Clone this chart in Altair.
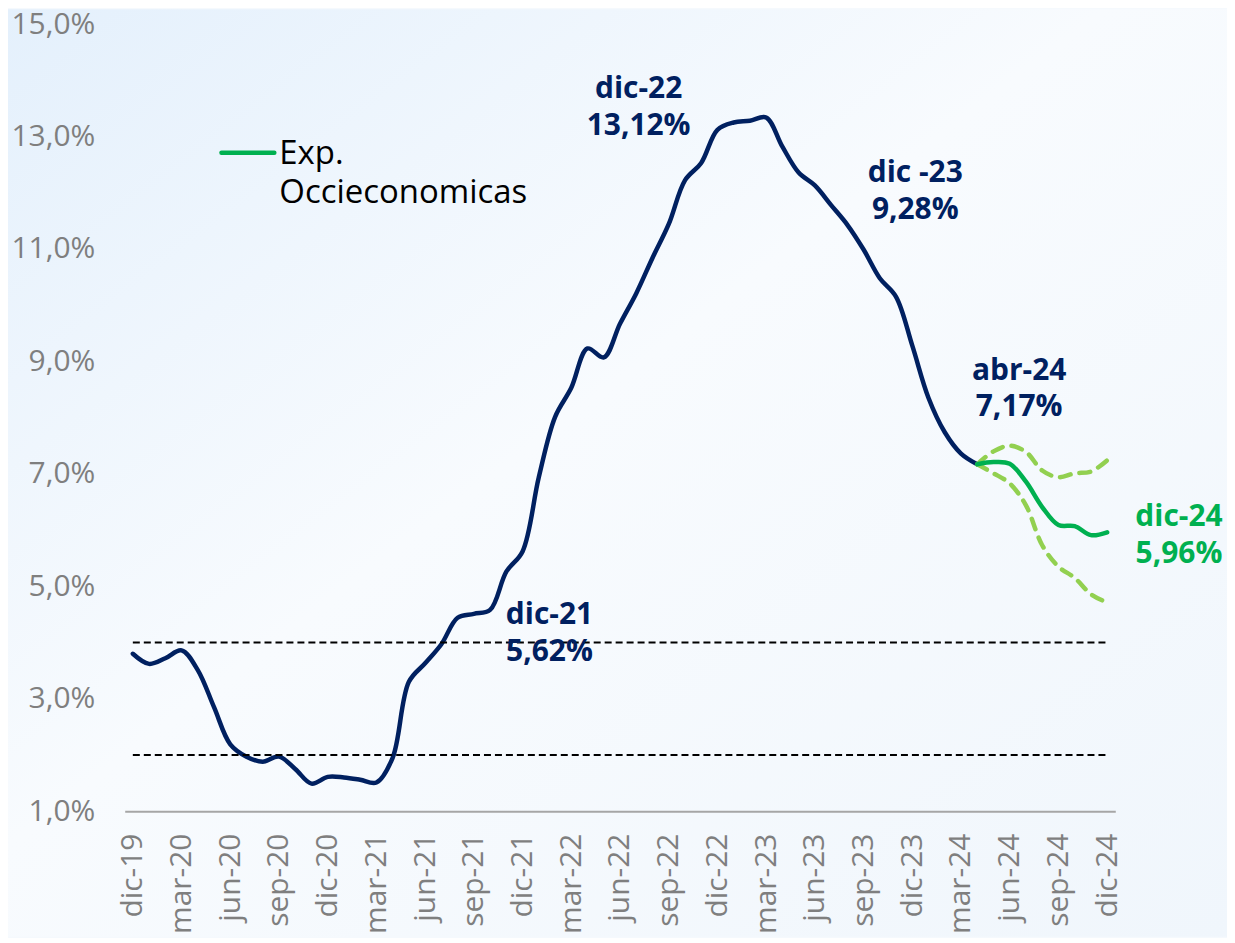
import altair as alt
import pandas as pd

# ---------------- data ----------------
meses = [
    "dic-19",
    "ene-20", "feb-20", "mar-20", "abr-20", "may-20", "jun-20", "jul-20", "ago-20", "sep-20", "oct-20", "nov-20", "dic-20",
    "ene-21", "feb-21", "mar-21", "abr-21", "may-21", "jun-21", "jul-21", "ago-21", "sep-21", "oct-21", "nov-21", "dic-21",
    "ene-22", "feb-22", "mar-22", "abr-22", "may-22", "jun-22", "jul-22", "ago-22", "sep-22", "oct-22", "nov-22", "dic-22",
    "ene-23", "feb-23", "mar-23", "abr-23", "may-23", "jun-23", "jul-23", "ago-23", "sep-23", "oct-23", "nov-23", "dic-23",
    "ene-24", "feb-24", "mar-24", "abr-24", "may-24", "jun-24", "jul-24", "ago-24", "sep-24", "oct-24", "nov-24", "dic-24",
]

inflacion = [
    3.80,
    3.62, 3.72, 3.86, 3.51, 2.85, 2.19, 1.97, 1.88, 1.97, 1.75, 1.49, 1.61,
    1.60, 1.56, 1.51, 1.95, 3.30, 3.63, 3.97, 4.44, 4.51, 4.58, 5.26, 5.62,
    6.94, 8.01, 8.53, 9.23, 9.07, 9.67, 10.21, 10.84, 11.44, 12.22, 12.53, 13.12,
    13.25, 13.28, 13.34, 12.82, 12.36, 12.13, 11.78, 11.43, 10.99, 10.48, 10.15, 9.28,
    8.35, 7.74, 7.36, 7.17,
]

meses_proy = ["abr-24", "may-24", "jun-24", "jul-24", "ago-24", "sep-24", "oct-24", "nov-24", "dic-24"]
proy_central = [7.17, 7.21, 7.18, 6.86, 6.41, 6.09, 6.07, 5.91, 5.96]
proy_sup = [7.17, 7.40, 7.50, 7.39, 7.06, 6.94, 7.01, 7.04, 7.24]
proy_inf = [7.17, 7.01, 6.83, 6.44, 5.73, 5.35, 5.15, 4.86, 4.71]

rango_meta = [2.0, 4.0]

ticks_y = [1, 3, 5, 7, 9, 11, 13, 15]
ticks_x = meses[::3]

anot_meses = ["dic-21", "dic-22", "dic-23", "abr-24", "dic-24"]
anot_valores = [5.62, 13.12, 9.28, 7.17, 5.96]
anot_textos = ["dic-21\n5,62%", "dic-22\n13,12%", "dic -23\n9,28%", "abr-24\n7,17%", "dic-24\n5,96%"]

leyenda_texto = ["Exp.", "Occieconomicas"]

# ---------------- styles ----------------
NAVY = "#002060"
GREEN = "#00B050"
LGREEN = "#92D050"
GRAY = "#7F7F7F"
FONT = "Open Sans"

W, H = 993, 789
PAD = {"left": 117, "top": 15, "right": 112, "bottom": 126}

df_hist = pd.DataFrame({"mes": meses[: len(inflacion)], "valor": inflacion})
df_central = pd.DataFrame({"mes": meses_proy, "valor": proy_central})
df_bandas = pd.concat([
    pd.DataFrame({"mes": meses_proy, "valor": proy_sup, "serie": "sup"}),
    pd.DataFrame({"mes": meses_proy, "valor": proy_inf, "serie": "inf"}),
])
df_meta = pd.concat([
    pd.DataFrame({"mes": meses, "valor": [v] * len(meses), "serie": str(v)}) for v in rango_meta
])

x_enc = alt.X(
    "mes:N",
    scale=alt.Scale(type="point", domain=meses, padding=0.5),
    axis=alt.Axis(
        values=ticks_x, labelAngle=-90, labelFont=FONT, labelFontSize=30,
        labelColor=GRAY, labelPadding=22, ticks=False, tickSize=0,
        domainColor="#A6A6A6", domainWidth=2, grid=False, title=None,
        labelOverlap=False, zindex=1,
    ),
)
y_enc = alt.Y(
    "valor:Q",
    scale=alt.Scale(domain=[1, 15], nice=False, zero=False),
    axis=alt.Axis(
        values=ticks_y, labelExpr="replace(format(datum.value, '.1f'), '.', ',') + '%'",
        labelFont=FONT, labelFontSize=30, labelColor=GRAY, labelPadding=30,
        ticks=False, tickSize=0, domain=False, grid=False, title=None, zindex=1,
        labelOverlap=False,
    ),
)

one = pd.DataFrame({"k": [0]})

# background gradient
fondo = alt.Chart(one).mark_rect(
    fill=alt.Gradient(
        gradient="linear", x1=0, y1=0, x2=1, y2=1,
        stops=[
            alt.GradientStop(offset=0, color="#E4F0FC"),
            alt.GradientStop(offset=0.45, color="#F8FBFE"),
            alt.GradientStop(offset=1, color="#F0F6FC"),
        ],
    )
).encode(
    x=alt.value(-PAD["left"]), x2=alt.value(W + PAD["right"]),
    y=alt.value(-PAD["top"]), y2=alt.value(H + PAD["bottom"]),
)

meta = alt.Chart(df_meta).mark_line(color="black", strokeWidth=2, strokeDash=[7, 4]).encode(
    x=x_enc, y=y_enc, detail="serie:N"
)

hist = alt.Chart(df_hist).mark_line(
    color=NAVY, strokeWidth=4.5, interpolate="catmull-rom", strokeCap="round"
).encode(x=x_enc, y=y_enc)

bandas = alt.Chart(df_bandas).mark_line(
    color=LGREEN, strokeWidth=4.5, strokeDash=[11, 9], strokeCap="round", interpolate="catmull-rom"
).encode(x=x_enc, y=y_enc, detail="serie:N")

central = alt.Chart(df_central).mark_line(
    color=GREEN, strokeWidth=4.5, interpolate="catmull-rom", strokeCap="round"
).encode(x=x_enc, y=y_enc)

# offsets (dx, dy of the first text line from the anchored data point)
offsets = [(27, 64, NAVY), (-79, -41, NAVY), (3, -173, NAVY), (42, -94, NAVY), (72, -15, GREEN)]
anots = []
for m, v, t, (dx, dy, col) in zip(anot_meses, anot_valores, anot_textos, offsets):
    d = pd.DataFrame({"mes": [m], "valor": [v], "texto": [t]})
    anots.append(
        alt.Chart(d).mark_text(
            font=FONT, fontSize=30, fontWeight="bold", color=col, lineBreak="\n",
            lineHeight=37, align="center", baseline="middle", dx=dx, dy=dy,
        ).encode(x=x_enc, y=y_enc, text="texto:N")
    )

ley_linea = alt.Chart(one).mark_rule(color=GREEN, strokeWidth=4.5, strokeCap="round").encode(
    x=alt.value(97), x2=alt.value(150), y=alt.value(129)
)
ley_texto = alt.Chart(pd.DataFrame({"t": ["\n".join(leyenda_texto)]})).mark_text(
    font=FONT, fontSize=33, color="black", align="left", baseline="middle",
    lineBreak="\n", lineHeight=39,
).encode(x=alt.value(155), y=alt.value(130), text="t:N")

chart = alt.layer(
    fondo, hist, bandas, central, meta, *anots, ley_linea, ley_texto
).properties(
    width=W, height=H, autosize=alt.AutoSizeParams(type="none"), padding=PAD,
    background="#F5F9FD",
).configure_view(stroke=None)

chart.save("out.html", embed_options={"renderer": "svg", "actions": False})
